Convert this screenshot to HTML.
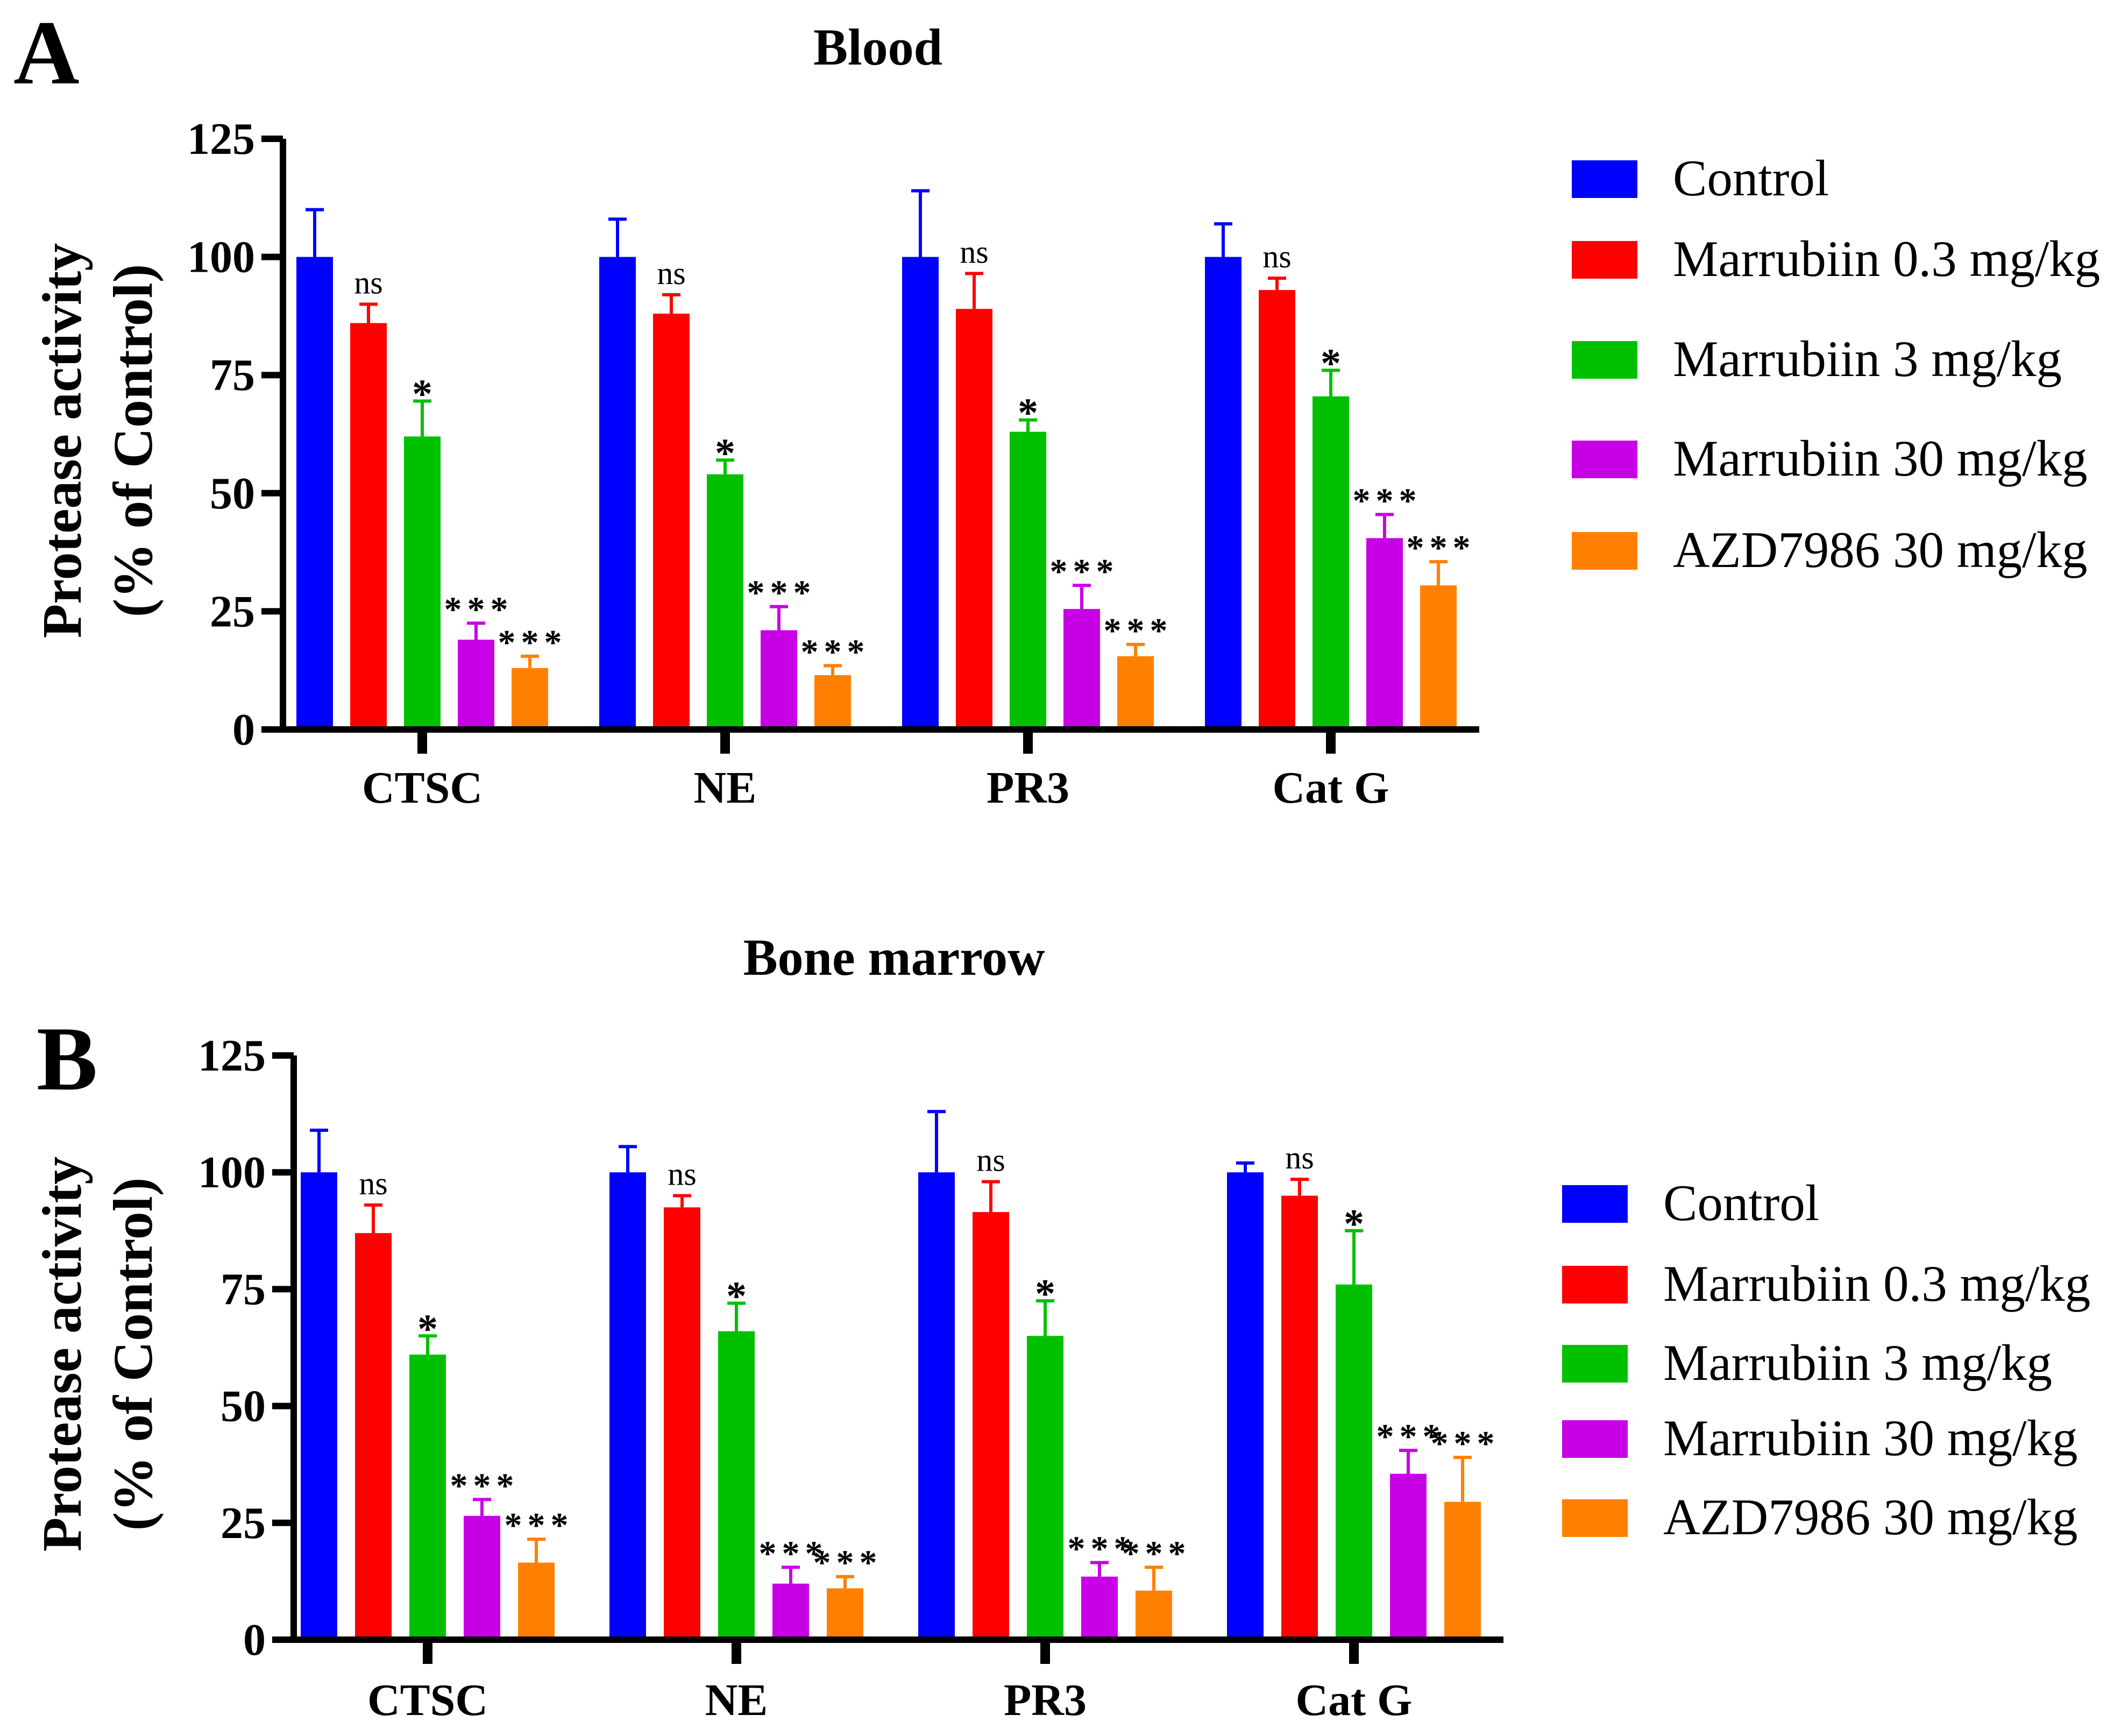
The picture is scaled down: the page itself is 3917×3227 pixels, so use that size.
<!DOCTYPE html>
<html><head><meta charset="utf-8"><style>
html,body{margin:0;padding:0;background:#fff;}
svg{display:block;font-family:"Liberation Serif",serif;}
</style></head><body>
<svg id="chart" width="3917" height="3227" viewBox="0 0 3917 3227" xmlns="http://www.w3.org/2000/svg"></svg>
<script>
const categories = ["CTSC","NE","PR3","Cat G"];
const seriesNames = ["Control","Marrubiin 0.3 mg/kg","Marrubiin 3 mg/kg","Marrubiin 30 mg/kg","AZD7986 30 mg/kg"];
const yTicks = [0,25,50,75,100,125];
const sigLabels = ["","ns","*","***","***"];
// Blood (panel A): means and error-bar tops, per series across categories
const bloodMeans = [[100,100,100,100],[86,88,89,93],[62,54,63,70.5],[19,21,25.5,40.5],[13,11.5,15.5,30.5]];
const bloodErr = [[110,108,114,107],[90,92,96.5,95.5],[69.5,57,65.5,76],[22.5,26,30.5,45.5],[15.5,13.5,18,35.5]];
// Bone marrow (panel B)
const marrowMeans = [[100,100,100,100],[87,92.5,91.5,95],[61,66,65,76],[26.5,12,13.5,35.5],[16.5,11,10.5,29.5]];
const marrowErr = [[109,105.5,113,102],[93,95,98,98.5],[65,72,72.5,87.5],[30,15.5,16.5,40.5],[21.5,13.5,15.5,39]];
const colors = ["#0000ff","#ff0000","#00c000","#c800e6","#ff8000"];

const svg = document.getElementById('chart');
const NS = "http://www.w3.org/2000/svg";
function mk(tag, attrs, parent){const e=document.createElementNS(NS,tag);for(const k in attrs)e.setAttribute(k,attrs[k]);(parent||svg).appendChild(e);return e;}

function panel(cfg){
  const g = mk('g',{});
  
  
  const y = v => cfg.y0 - (cfg.y0 - cfg.y125) * v / 125;
  const gx = i => cfg.g0 + i * cfg.gs;
  for (let s=0;s<seriesNames.length;s++){
    for (let c=0;c<categories.length;c++){
      const cx = gx(c) + (s-2)*cfg.bs;
      const bar = mk('rect',{x:cx-34,y:y(cfg.means[s][c]),width:68,height:y(0)-y(cfg.means[s][c]),fill:colors[s]},g);
      
      
      const eb = mk('path',{d:`M${cx} ${y(cfg.means[s][c])}V${y(cfg.err[s][c])}M${cx-17} ${y(cfg.err[s][c])}H${cx+17}`,stroke:colors[s],'stroke-width':6,fill:'none'},g);
      
      
      if (sigLabels[s]){
        const lab = sigLabels[s];
        let t;
        if (lab==='ns'){
          t = mk('text',{x:cx,y:y(cfg.err[s][c])-20,'text-anchor':'middle','font-size':60},g);
          t.textContent = 'ns';
        } else if (lab==='*'){
          t = mk('text',{x:cx,y:y(cfg.err[s][c])+12,'text-anchor':'middle','font-size':76,'font-weight':'bold'},g);
          t.textContent = '*';
        } else {
          t = mk('text',{x:cx+5,y:y(cfg.err[s][c])-4,'text-anchor':'middle','font-size':66,'font-weight':'bold','letter-spacing':10},g);
          t.textContent = '***';
        }
        
        
      }
    }
  }
  const ya = mk('path',{d:`M${cfg.ax} ${y(125)}V${y(0)+6}`,stroke:'#000','stroke-width':12,fill:'none'},g);
  
  
  const xa = mk('path',{d:`M${cfg.ax-6} ${y(0)}H${cfg.axEnd}`,stroke:'#000','stroke-width':12,fill:'none'},g);
  
  
  yTicks.forEach(v=>{
    mk('path',{d:`M${cfg.ax-40} ${y(v)}H${cfg.ax}`,stroke:'#000','stroke-width':12},g);
    const t = mk('text',{x:cfg.ax-52,y:y(v)+28,'text-anchor':'end','font-size':84,'font-weight':'bold'},g);
    t.textContent = v;
    
    
  });
  categories.forEach((c,i)=>{
    mk('path',{d:`M${gx(i)} ${y(0)}V${y(0)+45}`,stroke:'#000','stroke-width':18},g);
    const t = mk('text',{x:gx(i),y:cfg.catY,'text-anchor':'middle','font-size':84,'font-weight':'bold'},g);
    t.textContent = c;
    
    
  });
  const yc = (y(0)+y(125))/2 + 12;
  [['Protease activity',150],['(% of Control)',282]].forEach(([txt,xx])=>{
    const t = mk('text',{x:xx,y:yc,'text-anchor':'middle','font-size':104,'font-weight':'bold',transform:`rotate(-90 ${xx} ${yc})`},g);
    t.textContent = txt;
    
    
  });
  const tt = mk('text',{x:cfg.titleX,y:cfg.titleY,'text-anchor':'middle','font-size':96,'font-weight':'bold'},g);
  tt.textContent = cfg.title;
  
  
  const pl = mk('text',{x:cfg.letterX,y:cfg.letterY,'font-size':170,'font-weight':'bold'},g);
  pl.textContent = cfg.letter;
  
  
  seriesNames.forEach((n,i)=>{
    const sw = mk('rect',{x:cfg.legX,y:cfg.legY[i]-35,width:122,height:70,fill:colors[i]},g);
    
    
    const t = mk('text',{x:cfg.legX+188,y:cfg.legY[i]+30,'font-size':95},g);
    t.textContent = n;
    
    
  });
}

panel({name:'panel-a-blood',means:bloodMeans,err:bloodErr,y0:1356,y125:258,ax:526,axEnd:2750,g0:785,gs:563,bs:100,catY:1492,
  title:'Blood',titleX:1632,titleY:120,letter:'A',letterX:25,letterY:155,legX:2922,legY:[333,483,669,854,1024]});
panel({name:'panel-b-bone-marrow',means:marrowMeans,err:marrowErr,y0:3048,y125:1962,ax:546,axEnd:2795,g0:795,gs:574,bs:101,catY:3188,
  title:'Bone marrow',titleX:1662,titleY:1812,letter:'B',letterX:68,letterY:2025,legX:2904,legY:[2238,2388,2535,2675,2822]});
</script>
</body></html>
